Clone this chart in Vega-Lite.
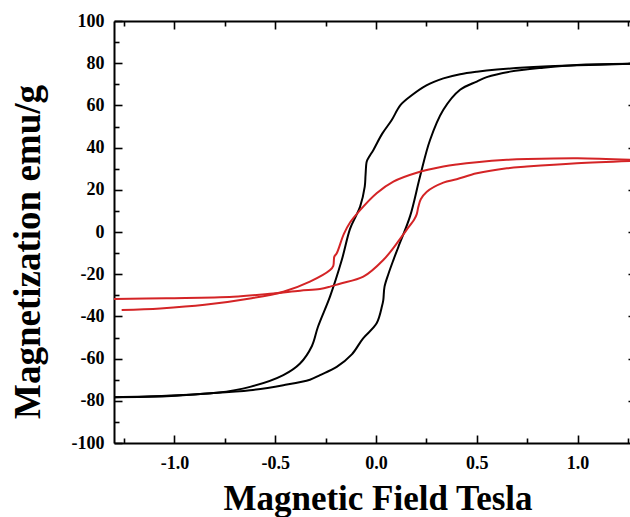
{
  "$schema": "https://vega.github.io/schema/vega-lite/v6.json",
  "width": 516,
  "height": 422,
  "autosize": {"type": "none"},
  "padding": {"left": 114, "top": 21, "right": 0, "bottom": 74},
  "background": "white",
  "config": {
    "view": {"stroke": null},
    "axis": {
      "grid": false,
      "domainColor": "#000000",
      "domainWidth": 2,
      "tickColor": "#000000",
      "tickWidth": 1.6,
      "labelFont": "Liberation Serif",
      "labelFontSize": 18,
      "labelFontWeight": "bold",
      "labelColor": "#000000",
      "labelFlush": false,
      "labelOverlap": false,
      "labelBound": false,
      "titleFont": "Liberation Serif",
      "titleFontWeight": "bold",
      "titleColor": "#000000"
    }
  },
  "data": {"values": [
    {"c":"b_down","s":"black","i":1,"H":1.26,"M":79.7},
    {"c":"b_down","s":"black","i":2,"H":1.0,"M":79.0},
    {"c":"b_down","s":"black","i":3,"H":0.83,"M":78.4},
    {"c":"b_down","s":"black","i":4,"H":0.6,"M":77.0},
    {"c":"b_down","s":"black","i":5,"H":0.5,"M":76.0},
    {"c":"b_down","s":"black","i":6,"H":0.417,"M":74.8},
    {"c":"b_down","s":"black","i":7,"H":0.334,"M":72.8},
    {"c":"b_down","s":"black","i":8,"H":0.25,"M":69.5},
    {"c":"b_down","s":"black","i":9,"H":0.169,"M":64.2},
    {"c":"b_down","s":"black","i":10,"H":0.12,"M":60.0},
    {"c":"b_down","s":"black","i":11,"H":0.078,"M":53.1},
    {"c":"b_down","s":"black","i":12,"H":0.03,"M":46.5},
    {"c":"b_down","s":"black","i":13,"H":-0.013,"M":38.9},
    {"c":"b_down","s":"black","i":14,"H":-0.035,"M":35.5},
    {"c":"b_down","s":"black","i":15,"H":-0.046,"M":33.4},
    {"c":"b_down","s":"black","i":16,"H":-0.052,"M":27.0},
    {"c":"b_down","s":"black","i":17,"H":-0.056,"M":21.5},
    {"c":"b_down","s":"black","i":18,"H":-0.079,"M":12.0},
    {"c":"b_down","s":"black","i":19,"H":-0.1,"M":7.5},
    {"c":"b_down","s":"black","i":20,"H":-0.129,"M":1.5},
    {"c":"b_down","s":"black","i":21,"H":-0.17,"M":-13.3},
    {"c":"b_down","s":"black","i":22,"H":-0.228,"M":-30.5},
    {"c":"b_down","s":"black","i":23,"H":-0.288,"M":-44.9},
    {"c":"b_down","s":"black","i":24,"H":-0.318,"M":-54.0},
    {"c":"b_down","s":"black","i":25,"H":-0.377,"M":-62.3},
    {"c":"b_down","s":"black","i":26,"H":-0.46,"M":-67.8},
    {"c":"b_down","s":"black","i":27,"H":-0.625,"M":-73.4},
    {"c":"b_down","s":"black","i":28,"H":-0.79,"M":-76.2},
    {"c":"b_down","s":"black","i":29,"H":-1.04,"M":-77.6},
    {"c":"b_down","s":"black","i":30,"H":-1.3,"M":-78.3},

    {"c":"b_up","s":"black","i":1,"H":-1.3,"M":-78.3},
    {"c":"b_up","s":"black","i":2,"H":-1.04,"M":-77.9},
    {"c":"b_up","s":"black","i":3,"H":-0.873,"M":-76.8},
    {"c":"b_up","s":"black","i":4,"H":-0.625,"M":-75.0},
    {"c":"b_up","s":"black","i":5,"H":-0.46,"M":-72.6},
    {"c":"b_up","s":"black","i":6,"H":-0.328,"M":-70.0},
    {"c":"b_up","s":"black","i":7,"H":-0.278,"M":-67.8},
    {"c":"b_up","s":"black","i":8,"H":-0.195,"M":-63.9},
    {"c":"b_up","s":"black","i":9,"H":-0.12,"M":-58.0},
    {"c":"b_up","s":"black","i":10,"H":-0.065,"M":-50.5},
    {"c":"b_up","s":"black","i":11,"H":0.003,"M":-43.3},
    {"c":"b_up","s":"black","i":12,"H":0.03,"M":-35.0},
    {"c":"b_up","s":"black","i":13,"H":0.036,"M":-32.3},
    {"c":"b_up","s":"black","i":14,"H":0.042,"M":-26.0},
    {"c":"b_up","s":"black","i":15,"H":0.061,"M":-20.0},
    {"c":"b_up","s":"black","i":16,"H":0.086,"M":-13.3},
    {"c":"b_up","s":"black","i":17,"H":0.111,"M":-7.0},
    {"c":"b_up","s":"black","i":18,"H":0.169,"M":7.5},
    {"c":"b_up","s":"black","i":19,"H":0.218,"M":26.2},
    {"c":"b_up","s":"black","i":20,"H":0.268,"M":43.6},
    {"c":"b_up","s":"black","i":21,"H":0.334,"M":57.9},
    {"c":"b_up","s":"black","i":22,"H":0.417,"M":67.4},
    {"c":"b_up","s":"black","i":23,"H":0.5,"M":71.3},
    {"c":"b_up","s":"black","i":24,"H":0.549,"M":73.4},
    {"c":"b_up","s":"black","i":25,"H":0.665,"M":76.0},
    {"c":"b_up","s":"black","i":26,"H":0.83,"M":77.9},
    {"c":"b_up","s":"black","i":27,"H":0.996,"M":79.2},
    {"c":"b_up","s":"black","i":28,"H":1.26,"M":79.7},

    {"c":"r_down","s":"red","i":1,"H":1.26,"M":34.2},
    {"c":"r_down","s":"red","i":2,"H":1.0,"M":35.0},
    {"c":"r_down","s":"red","i":3,"H":0.75,"M":34.6},
    {"c":"r_down","s":"red","i":4,"H":0.649,"M":34.2},
    {"c":"r_down","s":"red","i":5,"H":0.5,"M":33.1},
    {"c":"r_down","s":"red","i":6,"H":0.4,"M":32.0},
    {"c":"r_down","s":"red","i":7,"H":0.334,"M":31.0},
    {"c":"r_down","s":"red","i":8,"H":0.202,"M":28.1},
    {"c":"r_down","s":"red","i":9,"H":0.086,"M":23.9},
    {"c":"r_down","s":"red","i":10,"H":0.003,"M":18.4},
    {"c":"r_down","s":"red","i":11,"H":-0.079,"M":10.4},
    {"c":"r_down","s":"red","i":12,"H":-0.129,"M":4.5},
    {"c":"r_down","s":"red","i":13,"H":-0.16,"M":-1.0},
    {"c":"r_down","s":"red","i":14,"H":-0.195,"M":-10.1},
    {"c":"r_down","s":"red","i":15,"H":-0.207,"M":-11.7},
    {"c":"r_down","s":"red","i":16,"H":-0.212,"M":-16.0},
    {"c":"r_down","s":"red","i":17,"H":-0.228,"M":-18.0},
    {"c":"r_down","s":"red","i":18,"H":-0.328,"M":-23.5},
    {"c":"r_down","s":"red","i":19,"H":-0.46,"M":-28.3},
    {"c":"r_down","s":"red","i":20,"H":-0.625,"M":-31.5},
    {"c":"r_down","s":"red","i":21,"H":-0.85,"M":-34.5},
    {"c":"r_down","s":"red","i":22,"H":-1.07,"M":-36.2},
    {"c":"r_down","s":"red","i":23,"H":-1.262,"M":-37.0},

    {"c":"r_up","s":"red","i":1,"H":-1.3,"M":-31.8},
    {"c":"r_up","s":"red","i":2,"H":-1.04,"M":-31.4},
    {"c":"r_up","s":"red","i":3,"H":-0.708,"M":-30.7},
    {"c":"r_up","s":"red","i":4,"H":-0.51,"M":-29.1},
    {"c":"r_up","s":"red","i":5,"H":-0.377,"M":-27.8},
    {"c":"r_up","s":"red","i":6,"H":-0.278,"M":-27.0},
    {"c":"r_up","s":"red","i":7,"H":-0.228,"M":-25.9},
    {"c":"r_up","s":"red","i":8,"H":-0.179,"M":-24.5},
    {"c":"r_up","s":"red","i":9,"H":-0.063,"M":-21.2},
    {"c":"r_up","s":"red","i":10,"H":0.036,"M":-13.3},
    {"c":"r_up","s":"red","i":11,"H":0.103,"M":-5.4},
    {"c":"r_up","s":"red","i":12,"H":0.15,"M":0.8},
    {"c":"r_up","s":"red","i":13,"H":0.19,"M":6.0},
    {"c":"r_up","s":"red","i":14,"H":0.202,"M":8.5},
    {"c":"r_up","s":"red","i":15,"H":0.21,"M":12.0},
    {"c":"r_up","s":"red","i":16,"H":0.222,"M":15.5},
    {"c":"r_up","s":"red","i":17,"H":0.252,"M":19.1},
    {"c":"r_up","s":"red","i":18,"H":0.334,"M":23.4},
    {"c":"r_up","s":"red","i":19,"H":0.4,"M":25.0},
    {"c":"r_up","s":"red","i":20,"H":0.5,"M":27.8},
    {"c":"r_up","s":"red","i":21,"H":0.649,"M":30.2},
    {"c":"r_up","s":"red","i":22,"H":0.748,"M":31.0},
    {"c":"r_up","s":"red","i":23,"H":0.996,"M":32.6},
    {"c":"r_up","s":"red","i":24,"H":1.26,"M":33.7}
  ]},
  "layer": [
    {
      "mark": {"type": "line", "strokeWidth": 2, "clip": true, "interpolate": "catmull-rom"},
      "encoding": {
        "x": {
          "field": "H", "type": "quantitative",
          "scale": {"domain": [-1.3, 1.26], "nice": false, "zero": false},
          "axis": {
            "orient": "bottom",
            "values": [-1.25, -1, -0.75, -0.5, -0.25, 0, 0.25, 0.5, 0.75, 1, 1.25],
            "labelExpr": "abs(datum.value*2 - round(datum.value*2)) < 0.01 ? (datum.value < 0 ? '-' : '') + format(abs(datum.value), '.1f') : ''",
            "tickSize": {"condition": {"test": "abs(datum.value*2 - round(datum.value*2)) > 0.01", "value": -5}, "value": -8},
            "labelPadding": 19,
            "title": "Magnetic Field Tesla",
            "titleFontSize": 35,
            "titleX": 263.5,
            "titleY": 66,
            "titleAlign": "center",
            "titleBaseline": "alphabetic"
          }
        },
        "y": {
          "field": "M", "type": "quantitative",
          "scale": {"domain": [-100, 100], "nice": false, "zero": false},
          "axis": {
            "orient": "left",
            "values": [-100, -90, -80, -70, -60, -50, -40, -30, -20, -10, 0, 10, 20, 30, 40, 50, 60, 70, 80, 90, 100],
            "labelExpr": "datum.value % 20 == 0 ? (datum.value < 0 ? '-' : '') + abs(datum.value) : ''",
            "tickSize": {"condition": {"test": "datum.value % 20 != 0", "value": -5}, "value": -8},
            "labelPadding": 18,
            "title": "Magnetization emu/g",
            "titleFontSize": 37,
            "titleAngle": 270,
            "titleX": -75,
            "titleY": 230.5,
            "titleAlign": "center",
            "titleBaseline": "alphabetic"
          }
        },
        "color": {"field": "s", "type": "nominal", "scale": {"domain": ["black", "red"], "range": ["#000000", "#d42426"]}, "legend": null},
        "detail": {"field": "c"},
        "order": {"field": "i", "type": "quantitative"}
      }
    },
    {
      "mark": {"type": "line", "opacity": 0, "clip": true},
      "encoding": {
        "x": {
          "field": "H", "type": "quantitative",
          "axis": {
            "orient": "top",
            "values": [-1.25, -1, -0.75, -0.5, -0.25, 0, 0.25, 0.5, 0.75, 1, 1.25],
            "labels": false,
            "tickSize": {"condition": {"test": "abs(datum.value*2 - round(datum.value*2)) > 0.01", "value": -5}, "value": -8},
            "title": null
          }
        },
        "y": {
          "field": "M", "type": "quantitative",
          "axis": {
            "orient": "right",
            "values": [-80, -60, -40, -20, 0, 20, 40, 60, 80],
            "labels": false,
            "domain": false,
            "tickSize": -2,
            "title": null
          }
        },
        "detail": {"field": "c"},
        "order": {"field": "i", "type": "quantitative"}
      }
    }
  ],
  "resolve": {"axis": {"x": "independent", "y": "independent"}}
}
